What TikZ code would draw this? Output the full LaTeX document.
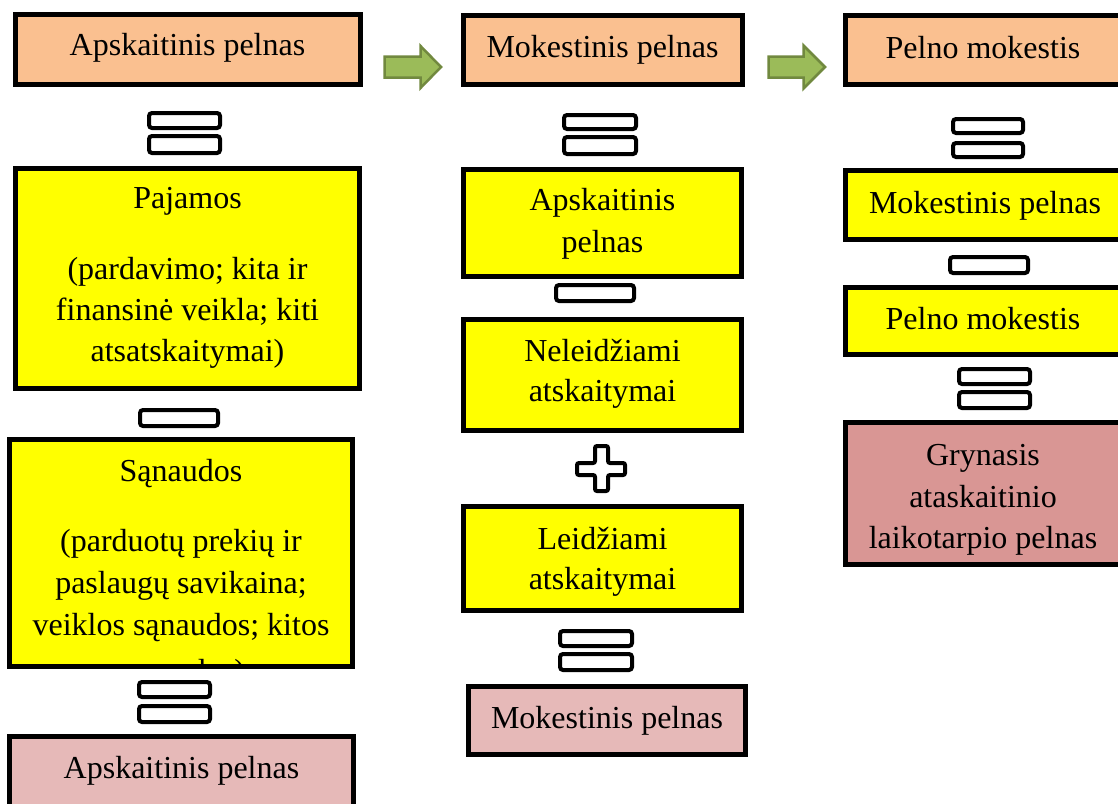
\documentclass[tikz,border=0pt]{standalone}
\usepackage{fontspec}
\setmainfont{Liberation Serif}
\definecolor{peach}{HTML}{FAC090}
\definecolor{lemon}{HTML}{FFFF00}
\definecolor{rosepale}{HTML}{E6B9B8}
\definecolor{rosedeep}{HTML}{D99694}
\definecolor{leaf}{HTML}{9BBB59}
\definecolor{leafedge}{HTML}{71893F}

\tikzset{
  blk/.style={draw=black, line width=5pt, inner sep=0pt, outer sep=0pt, rectangle},
  opbarsty/.style={draw=black, fill=white, line width=4pt, rounded corners=3pt,
    inner sep=0pt, outer sep=0pt, rectangle},
  txt/.style={anchor=base, inner sep=0pt, outer sep=0pt,
    font=\fontsize{32}{41}\selectfont},
  flowarrow/.style={fill=leaf, draw=leafedge, line width=2.5pt, line join=miter},
  plusmark/.style={draw=black, fill=white, line width=4pt, rounded corners=2pt}
}

% block with outer edges x1,y1,x2,y2: name, fill, x1, y1, x2, y2
\newcommand\blockbox[6]{%
  \node[blk, fill=#2, minimum width={#5-#3-5}, minimum height={#6-#4-5}]
    (#1) at ({(#3+#5)/2},{(#4+#6)/2}) {};}
% one bar of an operator sign: name, x1, y1, x2, y2
\newcommand\opbar[5]{%
  \node[opbarsty, minimum width={#4-#2-4}, minimum height={#5-#3-4}]
    (#1) at ({(#2+#4)/2},{(#3+#5)/2}) {};}
% one line of text on its baseline: name, x, y, text
\newcommand\txtline[4]{\node[txt] (#1) at (#2,#3) {#4};}

\begin{document}
\begin{tikzpicture}[x=1pt, y=-1pt]
\useasboundingbox (0,0) rectangle (1118,803);
\clip (0,0) rectangle (1118,803);

% ---------- column 1 ----------
\blockbox{acc}{peach}{13}{12}{363}{87}
\txtline{accT}{187.5}{55}{Apskaitinis pelnas}

\opbar{eqAa}{147}{111}{222}{130}
\opbar{eqAb}{147}{134}{222}{155}

\blockbox{inc}{lemon}{13}{166}{362}{391}
\txtline{incA}{187.5}{208}{Pajamos}
\txtline{incB}{187.5}{279}{(pardavimo; kita ir}
\txtline{incC}{187.5}{320}{finansinė veikla; kiti}
\txtline{incD}{187.5}{361}{atsatskaitymai)}

\opbar{minA}{138}{408}{220}{428}

\blockbox{exp}{lemon}{7}{437}{355}{669}
\begin{scope}
  \clip (12,442) rectangle (350,664);
  \txtline{expA}{181}{481}{Sąnaudos}
  \txtline{expB}{181}{551}{(parduotų prekių ir}
  \txtline{expC}{181}{593}{paslaugų savikaina;}
  \txtline{expD}{181}{635}{veiklos sąnaudos; kitos}
  \txtline{expE}{181}{681}{sąnaudos)}
\end{scope}

\opbar{eqBa}{137}{680}{212}{699}
\opbar{eqBb}{137}{704}{212}{724}

\blockbox{accR}{rosepale}{7}{734}{356}{812}
\txtline{accRT}{181.5}{778}{Apskaitinis pelnas}

% ---------- arrow 1 ----------
\draw[flowarrow] (384.5,56.5) -- (420.5,56.5) -- (420.5,46) -- (441,67)
  -- (420.5,88) -- (420.5,77.5) -- (384.5,77.5) -- cycle;

% ---------- column 2 ----------
\blockbox{tax}{peach}{461}{13}{745}{87}
\txtline{taxT}{602.5}{57}{Mokestinis pelnas}

\opbar{eqCa}{562}{113}{638}{131}
\opbar{eqCb}{562}{135}{638}{156}

\blockbox{acc2}{lemon}{461}{167}{744}{279}
\txtline{acc2A}{602.5}{210}{Apskaitinis}
\txtline{acc2B}{602.5}{252}{pelnas}

\opbar{minB}{554}{283}{636}{303}

\blockbox{nded}{lemon}{461}{317}{744}{433}
\txtline{ndedA}{602.5}{361}{Neleidžiami}
\txtline{ndedB}{602.5}{401}{atskaitymai}

\draw[plusmark] (595,446) -- (608,446) -- (608,463) -- (625,463) -- (625,475)
  -- (608,475) -- (608,491) -- (595,491) -- (595,475) -- (577,475)
  -- (577,463) -- (595,463) -- cycle;

\blockbox{ded}{lemon}{461}{504}{744}{613}
\txtline{dedA}{602.5}{549}{Leidžiami}
\txtline{dedB}{602.5}{589}{atskaitymai}

\opbar{eqDa}{558}{629}{634}{648}
\opbar{eqDb}{558}{652}{634}{672}

\blockbox{taxR}{rosepale}{466}{684}{748}{757}
\txtline{taxRT}{607}{728}{Mokestinis pelnas}

% ---------- arrow 2 ----------
\draw[flowarrow] (768.5,56.5) -- (803.5,56.5) -- (803.5,45.5) -- (825,67)
  -- (803.5,88.5) -- (803.5,77.5) -- (768.5,77.5) -- cycle;

% ---------- column 3 ----------
\blockbox{levy}{peach}{843}{13}{1125}{87}
\txtline{levyT}{983}{58}{Pelno mokestis}

\opbar{eqEa}{951}{117}{1025}{135}
\opbar{eqEb}{951}{141}{1025}{159}

\blockbox{tax3}{lemon}{843}{168}{1125}{242}
\txtline{tax3T}{985}{213}{Mokestinis pelnas}

\opbar{minC}{948}{255}{1030}{275}

\blockbox{levy3}{lemon}{843}{285}{1125}{357}
\txtline{levy3T}{983}{329}{Pelno mokestis}

\opbar{eqFa}{957}{367}{1032}{386}
\opbar{eqFb}{957}{390}{1032}{410}

\blockbox{net}{rosedeep}{843}{420}{1125}{567}
\txtline{netA}{983}{465}{Grynasis}
\txtline{netB}{983}{507}{ataskaitinio}
\txtline{netC}{983}{548}{laikotarpio pelnas}
\end{tikzpicture}
\end{document}
